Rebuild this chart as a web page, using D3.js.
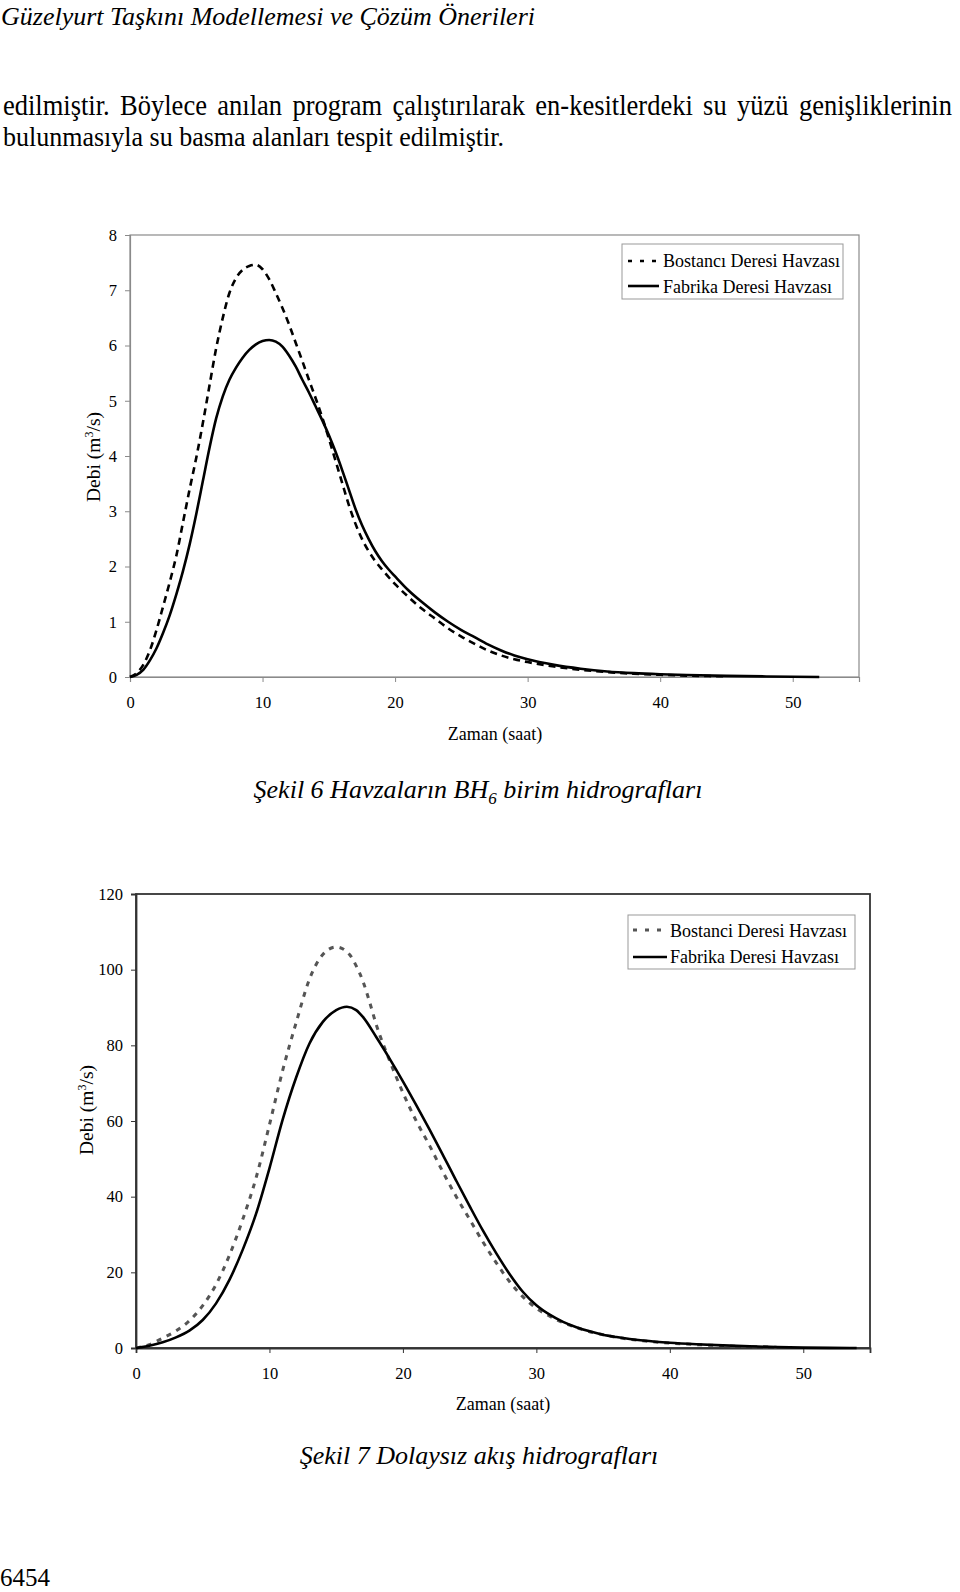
<!DOCTYPE html>
<html>
<head>
<meta charset="utf-8">
<script src="https://cdn.jsdelivr.net/npm/d3@7"></script>
<style>
  html, body { margin: 0; padding: 0; background: #fff; }
  svg { display: block; }
  text { font-family: "Liberation Serif", "Times New Roman", serif; fill: #000; }
</style>
</head>
<body>
<svg id="page" width="960" height="1592"></svg>
<script>
// ---------- Data ----------
// Figure 6 (BH6 unit hydrographs), time in hours, discharge in m3/s
const fig6XTicks = [0, 10, 20, 30, 40, 50];
const fig6YTicks = [0, 1, 2, 3, 4, 5, 6, 7, 8];
const fig6BostanciT = [0, 0.5, 1, 1.5, 2, 2.5, 3, 3.5, 4, 4.5, 5, 5.5, 6, 6.5, 7, 7.5, 8, 8.5, 9, 9.5, 10, 10.5, 11, 11.5, 12, 12.5, 13, 13.5, 14, 14.5, 15, 15.5, 16, 16.5, 17, 17.5, 18, 18.5, 19, 20, 21, 22, 23, 24, 25, 26, 27, 28, 29, 30, 32, 34, 36, 38, 40, 42, 45];
const fig6BostanciQ = [0, 0.07, 0.22, 0.48, 0.85, 1.28, 1.72, 2.2, 2.8, 3.4, 3.97, 4.6, 5.28, 5.95, 6.5, 6.95, 7.22, 7.37, 7.44, 7.46, 7.38, 7.2, 6.95, 6.68, 6.38, 6.05, 5.72, 5.38, 5.05, 4.7, 4.32, 3.92, 3.52, 3.12, 2.78, 2.5, 2.28, 2.1, 1.95, 1.68, 1.45, 1.24, 1.06, 0.88, 0.73, 0.6, 0.48, 0.39, 0.32, 0.27, 0.19, 0.13, 0.09, 0.06, 0.04, 0.025, 0.012];
const fig6FabrikaT = [0, 0.5, 1, 1.5, 2, 2.5, 3, 3.5, 4, 4.5, 5, 5.5, 6, 6.5, 7, 7.5, 8, 8.5, 9, 9.5, 10, 10.5, 11, 11.5, 12, 12.5, 13, 13.5, 14, 14.5, 15, 15.5, 16, 16.5, 17, 17.5, 18, 18.5, 19, 19.5, 20, 21, 22, 23, 24, 25, 26, 27, 28, 29, 30, 32, 34, 36, 38, 40, 42, 45, 48, 52];
const fig6FabrikaQ = [0, 0.04, 0.13, 0.3, 0.52, 0.8, 1.12, 1.5, 1.92, 2.4, 2.95, 3.55, 4.15, 4.68, 5.08, 5.38, 5.6, 5.78, 5.92, 6.02, 6.08, 6.1, 6.07, 5.98, 5.82, 5.62, 5.38, 5.15, 4.9, 4.65, 4.38, 4.08, 3.75, 3.4, 3.05, 2.75, 2.5, 2.28, 2.1, 1.95, 1.82, 1.57, 1.36, 1.17, 1.0, 0.85, 0.72, 0.59, 0.48, 0.39, 0.32, 0.22, 0.15, 0.1, 0.07, 0.05, 0.035, 0.02, 0.01, 0];
const fig6Legend = ["Bostancı Deresi Havzası", "Fabrika Deresi Havzası"];

// Figure 7 (direct runoff hydrographs)
const fig7XTicks = [0, 10, 20, 30, 40, 50];
const fig7YTicks = [0, 20, 40, 60, 80, 100, 120];
const fig7BostanciT = [0, 1, 2, 3, 4, 5, 6, 7, 8, 9, 10, 11, 12, 13, 14, 15, 16, 16.5, 17, 17.5, 18, 19, 20, 21, 22, 23, 24, 25, 26, 27, 28, 29, 30, 31, 32, 33, 34, 35, 36, 38, 40, 42, 44, 46, 48];
const fig7BostanciQ = [0, 0.9, 2.6, 4.5, 7.2, 11.2, 16.8, 24.5, 34, 45, 59, 73.5, 86, 97.5, 104, 106, 104, 101, 97, 91.5, 85.5, 76, 67.5, 60, 53.5, 46.5, 40, 34, 28, 22.5, 17.5, 13.5, 10.5, 8.4, 6.7, 5.4, 4.3, 3.5, 2.8, 1.9, 1.3, 0.9, 0.6, 0.35, 0.2];
const fig7FabrikaT = [0, 1, 2, 3, 4, 5, 6, 7, 8, 9, 10, 11, 12, 13, 14, 15, 15.8, 16.5, 17, 18, 19, 20, 21, 22, 23, 24, 25, 26, 27, 28, 29, 30, 31, 32, 33, 34, 35, 36, 37, 38, 40, 42, 44, 46, 48, 50, 52, 54];
const fig7FabrikaQ = [0, 0.6, 1.5, 2.8, 4.6, 7.4, 11.8, 18, 26, 35.5, 47.5, 60.5, 71.5, 80.5, 86.2, 89.3, 90.2, 89.3, 87.5, 82.2, 76.5, 70.5, 64.2, 57.7, 51, 44.2, 37.5, 31, 25, 19.5, 14.8, 11.3, 8.8, 6.9, 5.5, 4.4, 3.5, 2.9, 2.4, 2.0, 1.4, 1.0, 0.7, 0.45, 0.25, 0.1, 0.03, 0];
const fig7Legend = ["Bostanci Deresi Havzası", "Fabrika Deresi Havzası"];

// Page texts
const headerText = "Güzelyurt Taşkını Modellemesi ve Çözüm Önerileri";
const bodyLines = [
  "edilmiştir. Böylece anılan program çalıştırılarak en-kesitlerdeki su yüzü genişliklerinin",
  "bulunmasıyla su basma alanları tespit edilmiştir."
];
const xTitle = "Zaman (saat)";
const pageNumber = "6454";

// ---------- Drawing ----------
const svg = d3.select("#page");
svg.append("rect").attr("width", 960).attr("height", 1592).attr("fill", "#fff");

// header
svg.append("text").attr("x", 1).attr("y", 25)
  .attr("font-size", 26).attr("font-style", "italic")
  .attr("textLength", 534).attr("lengthAdjust", "spacingAndGlyphs")
  .text(headerText);

// body line 1: justified word by word
(function () {
  const left = 3, right = 952, size = 26.5;
  const grp = svg.append("g").attr("transform", "translate(0,115) scale(1,1.08)");
  const words = bodyLines[0].split(" ");
  const nodes = words.map(w => grp.append("text").attr("y", 0).attr("font-size", size).text(w));
  const widths = nodes.map(n => n.node().getComputedTextLength());
  const total = d3.sum(widths);
  const gap = Math.max(5, (right - left - total) / (words.length - 1));
  const k = Math.min(1, (right - left - gap * (words.length - 1)) / total);
  let cx = left;
  nodes.forEach((n, i) => {
    n.attr("x", cx);
    if (k < 1) n.attr("textLength", widths[i] * k).attr("lengthAdjust", "spacingAndGlyphs");
    cx += widths[i] * k + gap;
  });
})();
svg.append("g").attr("transform", "translate(0,146) scale(1,1.08)")
  .append("text").attr("x", 3).attr("y", 0)
  .attr("font-size", 26)
  .attr("textLength", 501).attr("lengthAdjust", "spacingAndGlyphs")
  .text(bodyLines[1]);

function drawChart(o) {
  const x = d3.scaleLinear().domain([0, 55]).range([o.left, o.right]);
  const y = d3.scaleLinear().domain([0, o.yMax]).range([o.bottom, o.top]);
  const g = svg.append("g");

  // frame
  g.append("rect")
    .attr("x", o.left).attr("y", o.top)
    .attr("width", o.right - o.left).attr("height", o.bottom - o.top)
    .attr("fill", "none").attr("stroke", o.frameColor).attr("stroke-width", o.frameWidth);

  // axes
  const yAxis = d3.axisLeft(y).tickValues(o.yTicks).tickSize(5).tickPadding(8).tickFormat(d3.format("d"));
  const ya = g.append("g").attr("transform", `translate(${o.left},0)`).call(yAxis);
  const xAxis = d3.axisBottom(x).tickValues(o.xTicks).tickSize(5).tickPadding(14).tickFormat(d3.format("d"));
  const xa = g.append("g").attr("transform", `translate(0,${o.bottom})`).call(xAxis);
  [ya, xa].forEach(a => {
    a.select(".domain").attr("stroke", o.frameColor).attr("stroke-width", o.frameWidth);
    a.selectAll(".tick line").attr("stroke", o.frameColor).attr("stroke-width", 1);
    a.selectAll(".tick text").attr("font-family", "Liberation Serif").attr("font-size", 16.5).attr("fill", "#000");
  });

  // lines
  const line = d3.line().x(d => x(d[0])).y(d => y(d[1])).curve(d3.curveMonotoneX);
  const dashData = d3.zip(o.bT, o.bQ);
  const solidData = d3.zip(o.fT, o.fQ);
  g.append("path").datum(dashData).attr("d", line)
    .attr("fill", "none").attr("stroke", o.dashColor).attr("stroke-width", o.dashWidth)
    .attr("stroke-dasharray", o.dashArray);
  g.append("path").datum(solidData).attr("d", line)
    .attr("fill", "none").attr("stroke", "#000").attr("stroke-width", 2.6);

  // axis titles
  g.append("text").attr("x", o.xTitleX).attr("y", o.xTitleY)
    .attr("text-anchor", "middle").attr("font-size", 18).text(xTitle);
  const yt = g.append("text")
    .attr("transform", `translate(${o.yTitleX},${o.yTitleY}) rotate(-90)`)
    .attr("text-anchor", "middle").attr("font-size", 19.5);
  yt.append("tspan").text("Debi (m");
  yt.append("tspan").attr("font-size", 12).attr("dy", -7).text("3");
  yt.append("tspan").attr("dy", 7).text("/s)");

  // legend
  const L = o.legend;
  g.append("rect").attr("x", L.x0).attr("y", L.y0).attr("width", L.x1 - L.x0).attr("height", L.y1 - L.y0)
    .attr("fill", "#fff").attr("stroke", "#999").attr("stroke-width", 1);
  g.append("line").attr("x1", L.sx0).attr("x2", L.sx1).attr("y1", L.ly[0]).attr("y2", L.ly[0])
    .attr("stroke", o.dashColor).attr("stroke-width", o.dashWidth).attr("stroke-dasharray", L.dashArray);
  g.append("line").attr("x1", L.sx0).attr("x2", L.sx1).attr("y1", L.ly[1]).attr("y2", L.ly[1])
    .attr("stroke", "#000").attr("stroke-width", 2.6);
  o.legendLabels.forEach((lab, i) => {
    g.append("text").attr("x", L.tx).attr("y", L.ty[i]).attr("font-size", 18).text(lab);
  });

  // caption
  const cap = g.append("text").attr("x", o.capX).attr("y", o.capY)
    .attr("text-anchor", "middle").attr("font-size", 26).attr("font-style", "italic");
  o.caption.forEach(part => {
    const t = cap.append("tspan").text(part.t);
    if (part.sub) t.attr("font-size", 17).attr("dy", 6);
    if (part.after) t.attr("dy", -6);
  });
}

drawChart({
  left: 130, right: 859, top: 235, bottom: 677, yMax: 8,
  xTicks: fig6XTicks, yTicks: fig6YTicks,
  bT: fig6BostanciT, bQ: fig6BostanciQ, fT: fig6FabrikaT, fQ: fig6FabrikaQ,
  frameColor: "#8a8a8a", frameWidth: 1.2,
  dashColor: "#000", dashWidth: 2.6, dashArray: "7,5",
  xTitleX: 495, xTitleY: 740, yTitleX: 100, yTitleY: 457,
  legend: { x0: 622, y0: 244, x1: 843, y1: 299, sx0: 628, sx1: 659, ly: [261, 286], dashArray: "4,8", tx: 663, ty: [267, 293] },
  legendLabels: fig6Legend,
  capX: 478, capY: 798,
  caption: [{t: "Şekil 6 Havzaların BH"}, {t: "6", sub: true}, {t: " birim hidrografları", after: true}]
});

drawChart({
  left: 136, right: 870, top: 894, bottom: 1348, yMax: 120,
  xTicks: fig7XTicks, yTicks: fig7YTicks,
  bT: fig7BostanciT, bQ: fig7BostanciQ, fT: fig7FabrikaT, fQ: fig7FabrikaQ,
  frameColor: "#333", frameWidth: 1.8,
  dashColor: "#555", dashWidth: 3, dashArray: "5,6",
  xTitleX: 503, xTitleY: 1410, yTitleX: 93, yTitleY: 1110,
  legend: { x0: 628, y0: 915, x1: 855, y1: 969, sx0: 633, sx1: 667, ly: [930, 957], dashArray: "4,8", tx: 670, ty: [937, 963] },
  legendLabels: fig7Legend,
  capX: 479, capY: 1464,
  caption: [{t: "Şekil 7 Dolaysız akış hidrografları"}]
});

svg.append("text").attr("x", 0).attr("y", 1586).attr("font-size", 25).text(pageNumber);
</script>
</body>
</html>
